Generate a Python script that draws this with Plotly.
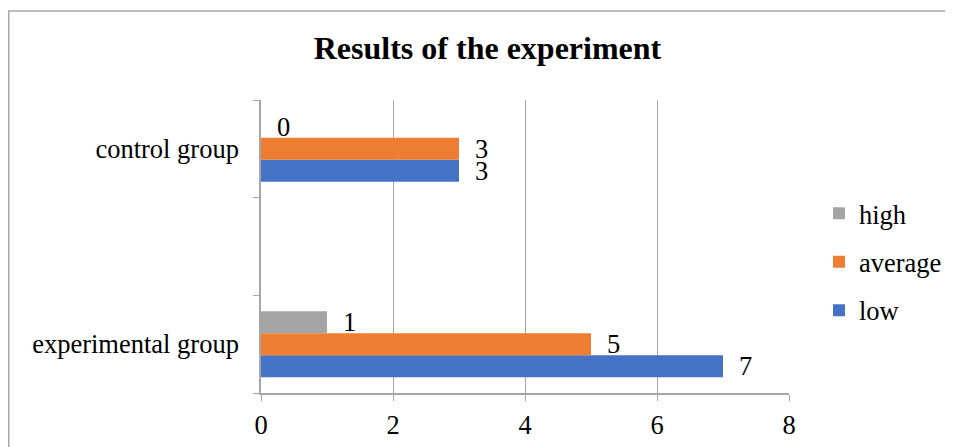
import plotly.graph_objects as go

categories = ["experimental group", " ", "control group"]
series_names = ["low", "average", "high"]
low = [7, None, 3]
average = [5, None, 3]
high = [1, None, 0]
colors = {"low": "#4472C4", "average": "#ED7D31", "high": "#A5A5A5"}
legend_rank = {"high": 1, "average": 2, "low": 3}
x_ticks = [0, 2, 4, 6, 8]

FONT = "Liberation Serif, Times New Roman, serif"
FS = 26.5

OFF = 8  # page body margin
W, H = 953 - OFF, 447 - OFF
PL, PR, PT, PB = 261 - OFF, 789 - OFF, 100 - OFF, 393 - OFF
L, R, T, B = PL, W - PR, PT, H - PB
PW, PH = PR - PL, PB - PT

fig = go.Figure()
values = {"low": low, "average": average, "high": high}
for name in series_names:
    fig.add_trace(go.Bar(
        y=categories, x=values[name], name=name, orientation="h",
        marker=dict(color=colors[name], line=dict(width=0)),
        legendgroup=name, legendrank=legend_rank[name],
    ))

shifts = {"low": -22, "average": 0, "high": 22}
annotations = []
for name in series_names:
    for cat, v in zip(categories, values[name]):
        if v is None:
            continue
        annotations.append(dict(
            x=v, y=cat, xref="x", yref="y", text=str(v), showarrow=False,
            xanchor="left", yanchor="middle", xshift=14, yshift=shifts[name],
            font=dict(family=FONT, size=FS, color="black"),
        ))

def px_to_paper_x(px):
    return (px - OFF - PL) / PW

def px_to_paper_y(py):
    return (PB - (py - OFF)) / PH

fig.update_layout(
    width=W, height=H,
    margin=dict(l=L, r=R, t=T, b=B, autoexpand=False),
    paper_bgcolor="white", plot_bgcolor="white",
    barmode="group", bargap=0.324, bargroupgap=0,
    font=dict(family=FONT, size=FS, color="black"),
    title=dict(text="<b>Results of the experiment</b>", font=dict(family=FONT, size=32, color="black"),
               x=(487.5 - OFF) / W, xref="container", xanchor="center",
               y=1 - (48 - OFF) / H, yref="container", yanchor="middle"),
    xaxis=dict(range=[0, 8], tickvals=x_ticks, showgrid=True, gridcolor="#A6A6A6", gridwidth=1,
               zeroline=False, showline=True, linecolor="#A6A6A6", linewidth=1.5,
               ticks="outside", ticklen=6, tickcolor="#A6A6A6", tickwidth=1,
               ticklabelstandoff=1, tickfont=dict(family=FONT, size=FS, color="black")),
    yaxis=dict(categoryorder="array", categoryarray=categories, type="category",
               tickson="boundaries", ticks="outside", ticklen=6, tickcolor="#A6A6A6", tickwidth=1,
               showgrid=False, zeroline=False, showline=True, linecolor="#A6A6A6", linewidth=1.5,
               ticklabelstandoff=15, tickfont=dict(family=FONT, size=FS, color="black"),
               range=[-0.5, 2.5]),
    legend=dict(x=px_to_paper_x(819), y=px_to_paper_y(262), xanchor="left", yanchor="middle",
                traceorder="grouped", tracegroupgap=11,
                font=dict(family=FONT, size=FS, color="black"), bgcolor="rgba(0,0,0,0)"),
    annotations=annotations,
    shapes=[dict(type="rect", xref="paper", yref="paper",
                 x0=px_to_paper_x(OFF + 0.75), x1=px_to_paper_x(1000),
                 y0=px_to_paper_y(500), y1=px_to_paper_y(11),
                 line=dict(color="#A6A6A6", width=1.5), fillcolor="rgba(0,0,0,0)", layer="below")],
)

fig.write_html("out.html")
